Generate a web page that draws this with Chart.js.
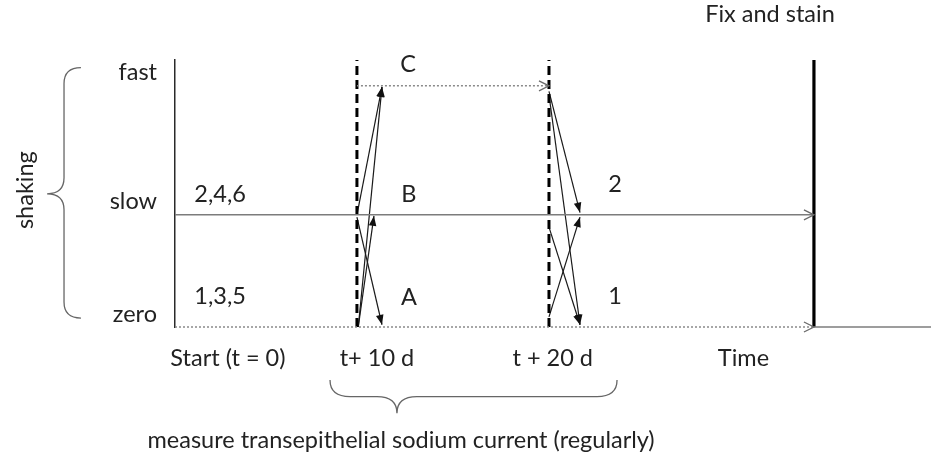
<!DOCTYPE html>
<html><head><meta charset="utf-8">
<script src="https://cdn.jsdelivr.net/npm/chart.js@4/dist/chart.umd.min.js"></script>
<style>html,body{margin:0;padding:0;background:#fff}canvas{display:block}</style>
</head><body>
<canvas id="c" width="931" height="456"></canvas>
<script>
// ---- data (schematic units) ----
const levelNames = ['zero', 'slow', 'fast'];
const levelValues = [0, 1, 2.15];
const axisTop = 2.38;
const stageNames = ['start', 't+10', 't+20', 'fix'];
const stageX = [0, 9.73, 20, 34.17];
const xEnd = 40.43;
const timeLabels = ['Start (t = 0)', 't+ 10 d', 't + 20 d', 'Time'];
const timeLabelX = [2.83, 10.8, 20.2, 30.4];
const timeLabelY = -0.277;
// transitions: [x0, y0, x1, y1]
const moves10 = [[9.73, 1.00, 11.07, 2.14], [9.80, 0.00, 11.07, 2.14], [9.80, 0.00, 10.64, 0.99], [9.73, 0.98, 11.07, 0.02]];
const moves20 = [[20.0, 2.10, 21.66, 1.02], [20.0, 2.07, 21.66, 0.02], [20.0, 0.89, 21.66, 0.02], [20.0, 0.09, 21.66, 0.98]];
const groupTexts = ['C', 'B', 'A', '2', '1', '2,4,6', '1,3,5'];
const groupX = [12.46, 12.51, 12.51, 23.53, 23.53, 2.41, 2.41];
const groupY = [2.34, 1.18, 0.26, 1.27, 0.27, 1.18, 0.27];
const titleText = 'Fix and stain';
const titlePos = [31.82, 2.79];
const footText = 'measure transepithelial sodium current (regularly)';
const footPos = [12.09, -1.01];
const sideText = 'shaking';
const sidePos = [-8.02, 1.22];
// braces: [endX, tipX, endA, tip, endB]
const leftBrace = [-5.03, -6.84, 2.3125, 1.1875, 0.08];
const bottomBrace = [-0.473, -0.768, 8.29, 11.87, 23.64];

const FONT = 'Lato';
const FSIZE = 23.5;
const TXT = '#222';

function seg(a, b, opts) {
  return Object.assign({ data: [a, b], showLine: true, pointRadius: 0, clip: false, fill: false, borderColor: '#1a1a1a', borderWidth: 1.2 }, opts || {});
}
const datasets = [];
// baselines
datasets.push(seg({x: stageX[0], y: levelValues[1]}, {x: stageX[3], y: levelValues[1]}, {borderColor: '#7c7c7c', borderWidth: 1.6, arrow: 'open'}));
datasets.push(seg({x: stageX[0], y: levelValues[0]}, {x: stageX[3], y: levelValues[0]}, {borderColor: '#8a8a8a', borderWidth: 1.6, borderDash: [2, 2], arrow: 'open'}));
datasets.push(seg({x: stageX[3], y: levelValues[0]}, {x: xEnd, y: levelValues[0]}, {borderColor: '#7c7c7c', borderWidth: 1.6}));
datasets.push(seg({x: stageX[1], y: levelValues[2]}, {x: stageX[2], y: levelValues[2]}, {borderColor: '#8a8a8a', borderWidth: 1.6, borderDash: [2, 2], arrow: 'open'}));
// stage verticals
datasets.push(seg({x: stageX[1], y: 0}, {x: stageX[1], y: axisTop}, {borderColor: '#000', borderWidth: 3, borderDash: [9, 5]}));
datasets.push(seg({x: stageX[2], y: 0}, {x: stageX[2], y: axisTop}, {borderColor: '#000', borderWidth: 3, borderDash: [9, 5]}));
datasets.push(seg({x: stageX[3], y: 0}, {x: stageX[3], y: axisTop}, {borderColor: '#000', borderWidth: 3.2}));
// transitions
moves10.concat(moves20).forEach(m => datasets.push(seg({x: m[0], y: m[1]}, {x: m[2], y: m[3]}, {arrow: 'filled'})));

const arrowPlugin = {
  id: 'arrows',
  afterDatasetsDraw(chart) {
    const ctx = chart.ctx;
    chart.data.datasets.forEach((ds, i) => {
      if (!ds.arrow) return;
      const pts = chart.getDatasetMeta(i).data;
      const p1 = pts[pts.length - 1], p0 = pts[pts.length - 2];
      const a = Math.atan2(p1.y - p0.y, p1.x - p0.x);
      ctx.save();
      ctx.translate(p1.x, p1.y);
      ctx.rotate(a);
      ctx.setLineDash([]);
      if (ds.arrow === 'filled') {
        ctx.fillStyle = '#111';
        ctx.beginPath();
        ctx.moveTo(0, 0); ctx.lineTo(-10, -3.8); ctx.lineTo(-10, 3.8); ctx.closePath();
        ctx.fill();
      } else {
        ctx.strokeStyle = '#6a6a6a';
        ctx.lineWidth = 1.3;
        ctx.beginPath();
        ctx.moveTo(-10, -5); ctx.lineTo(0, 0); ctx.lineTo(-10, 5);
        ctx.stroke();
      }
      ctx.restore();
    });
  }
};

const textPlugin = {
  id: 'texts',
  afterDraw(chart) {
    const ctx = chart.ctx, sx = chart.scales.x, sy = chart.scales.y;
    const X = v => sx.getPixelForValue(v), Y = v => sy.getPixelForValue(v);
    ctx.save();
    ctx.fillStyle = TXT;
    ctx.textAlign = 'center';
    ctx.textBaseline = 'middle';
    ctx.font = FSIZE + 'px ' + FONT;
    groupTexts.forEach((t, i) => ctx.fillText(t, X(groupX[i]), Y(groupY[i])));
    timeLabels.forEach((t, i) => ctx.fillText(t, X(timeLabelX[i]), Y(timeLabelY)));
    ctx.fillText(titleText, X(titlePos[0]), Y(titlePos[1]));
    ctx.fillText(footText, X(footPos[0]), Y(footPos[1]));
    ctx.save();
    ctx.translate(X(sidePos[0]), Y(sidePos[1]));
    ctx.rotate(-Math.PI / 2);
    ctx.fillText(sideText, 0, 0);
    ctx.restore();
    // braces
    ctx.strokeStyle = '#666';
    ctx.lineWidth = 1.3;
    // left (vertical) brace
    {
      const xe = X(leftBrace[0]), xt = X(leftBrace[1]);
      const ya = Y(leftBrace[2]), yt = Y(leftBrace[3]), yb = Y(leftBrace[4]);
      const xm = (xe + xt) / 2, r = 16;
      ctx.beginPath();
      ctx.moveTo(xe, ya);
      ctx.quadraticCurveTo(xm, ya, xm, ya + r);
      ctx.lineTo(xm, yt - r);
      ctx.quadraticCurveTo(xm, yt, xt, yt);
      ctx.quadraticCurveTo(xm, yt, xm, yt + r);
      ctx.lineTo(xm, yb - r);
      ctx.quadraticCurveTo(xm, yb, xe, yb);
      ctx.stroke();
    }
    // bottom (horizontal) brace
    {
      const ye = Y(bottomBrace[0]), yt = Y(bottomBrace[1]);
      const xa = X(bottomBrace[2]), xt = X(bottomBrace[3]), xb = X(bottomBrace[4]);
      const ym = (ye + yt) / 2, r = 20;
      ctx.beginPath();
      ctx.moveTo(xa, ye);
      ctx.quadraticCurveTo(xa, ym, xa + r, ym);
      ctx.lineTo(xt - r, ym);
      ctx.quadraticCurveTo(xt, ym, xt, yt);
      ctx.quadraticCurveTo(xt, ym, xt + r, ym);
      ctx.lineTo(xb - r, ym);
      ctx.quadraticCurveTo(xb, ym, xb, ye);
      ctx.stroke();
    }
    ctx.restore();
  }
};

Chart.defaults.font.family = FONT;
new Chart(document.getElementById('c'), {
  type: 'scatter',
  data: { datasets },
  options: {
    responsive: false,
    animation: false,
    events: [],
    layout: { padding: { top: 60, bottom: 129, left: 0, right: 0 } },
    plugins: { legend: { display: false }, tooltip: { enabled: false } },
    scales: {
      x: { type: 'linear', min: 0, max: xEnd, display: false },
      y: {
        type: 'linear', min: 0, max: axisTop, position: 'left',
        grid: { display: false },
        border: { display: true, color: '#2a2a2a', width: 1.5 },
        afterBuildTicks: s => { s.ticks = levelValues.map(v => ({ value: v })); },
        afterFit: s => { s.width = 175; },
        ticks: {
          autoSkip: false,
          callback: (v, i) => levelNames[i],
          font: { family: FONT, size: FSIZE },
          color: TXT, padding: 10, labelOffset: -13
        }
      }
    }
  },
  plugins: [arrowPlugin, textPlugin]
});
</script>
</body></html>
